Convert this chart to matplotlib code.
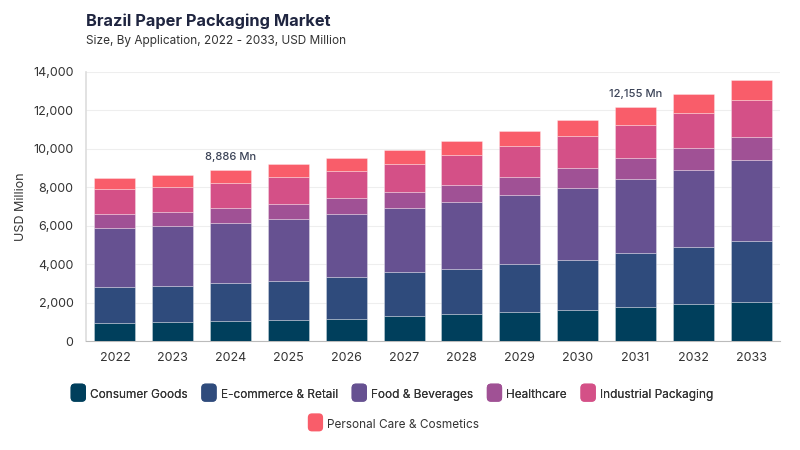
import matplotlib
matplotlib.use("Agg")
import matplotlib.pyplot as plt
from matplotlib.patches import FancyBboxPatch, Patch
from matplotlib.legend_handler import HandlerPatch
import numpy as np

years = ["2022", "2023", "2024", "2025", "2026", "2027", "2028", "2029", "2030", "2031", "2032", "2033"]
consumer_goods = [920, 973, 1025, 1077, 1128, 1301, 1388, 1492, 1613, 1752, 1909, 2045]
ecommerce_retail = [1905, 1905, 1978, 2063, 2186, 2273, 2376, 2498, 2620, 2811, 2966, 3142]
food_beverages = [3040, 3123, 3154, 3209, 3279, 3331, 3453, 3591, 3730, 3852, 4008, 4217]
healthcare = [730, 728, 749, 798, 832, 832, 885, 937, 1023, 1075, 1146, 1197]
industrial_packaging = [1300, 1302, 1333, 1353, 1388, 1475, 1543, 1596, 1666, 1735, 1821, 1942]
personal_care = [575, 609, 647, 677, 711, 729, 764, 815, 850, 930, 989, 1041]

series_names = ["Consumer Goods", "E-commerce & Retail", "Food & Beverages",
                "Healthcare", "Industrial Packaging", "Personal Care & Cosmetics"]
series_values = [consumer_goods, ecommerce_retail, food_beverages,
                 healthcare, industrial_packaging, personal_care]
colors = ["#003f5c", "#2f4b7c", "#665191", "#a05195", "#d45087", "#f95d6a"]

annot_years = ["2024", "2031"]
annot_labels = ["8,886 Mn", "12,155 Mn"]

plt.rcParams["font.family"] = ["Inter", "DejaVu Sans"]

fig = plt.figure(figsize=(8, 4.5), dpi=100)
ax = fig.add_axes([0.1075, 0.2422, 0.8675, 0.5985])

x = np.arange(len(years))
bottom = np.zeros(len(years))
for name, vals, c in zip(series_names, series_values, colors):
    v = np.array(vals, dtype=float)
    ax.bar(x, v, bottom=bottom, width=0.71, color=c, edgecolor=(1, 1, 1, 0.35),
           linewidth=0.6, label=name, zorder=3)
    bottom += v

totals = bottom
for yr, lab in zip(annot_years, annot_labels):
    i = years.index(yr)
    ax.text(x[i], totals[i] + 420, lab, ha="center", va="bottom",
            fontsize=8, color="#3a4256", fontweight="medium")

ax.set_xlim(-0.5, len(years) - 0.5)
ax.set_ylim(0, 14000)
ax.set_yticks(np.arange(0, 14001, 2000))
ax.set_yticklabels([f"{int(t):,}" for t in np.arange(0, 14001, 2000)])
ax.set_xticks(x)
ax.set_xticklabels(years)
ax.tick_params(axis="both", length=0, labelsize=9, colors="#333333")
ax.tick_params(axis="x", pad=8)
ax.tick_params(axis="y", pad=9)
ax.grid(axis="y", color="#eeeeee", linewidth=0.8, zorder=0)
for s in ["top", "right"]:
    ax.spines[s].set_visible(False)
ax.spines["left"].set_color("#dddddd")
ax.spines["left"].set_linewidth(1.2)
ax.spines["bottom"].set_color("#bbbbbb")
ax.set_ylabel("USD Million", fontsize=9, color="#333333", labelpad=4)

fig.text(0.108, 0.952, "Brazil Paper Packaging Market", fontsize=11.8, fontweight="bold",
         color="#1f2540", ha="left", va="center")
fig.text(0.108, 0.908, "Size, By Application, 2022 - 2033, USD Million", fontsize=8.5,
         color="#333333", ha="left", va="center")


class RoundHandler(HandlerPatch):
    def create_artists(self, legend, orig_handle, xdescent, ydescent, width, height, fontsize, trans):
        s = 11
        p = FancyBboxPatch((xdescent + (width - s) / 2, ydescent + (height - s) / 2 - 2),
                           s, s + 2, boxstyle="round,pad=0,rounding_size=3",
                           facecolor=orig_handle.get_facecolor(), edgecolor="none",
                           transform=trans)
        return [p]


handles = [Patch(facecolor=c, label=n) for n, c in zip(series_names, colors)]
leg1 = fig.legend(handles=handles[:5], loc="center", bbox_to_anchor=(0.491, 0.123), ncol=5,
                  frameon=False, fontsize=8.5, handler_map={Patch: RoundHandler()},
                  handlelength=1.0, handleheight=1.0, handletextpad=0.5, columnspacing=1.3)
for t in leg1.get_texts():
    t.set_color("#333333")
leg2 = fig.legend(handles=handles[5:], loc="center", bbox_to_anchor=(0.493, 0.057), ncol=1,
                  frameon=False, fontsize=8.5, handler_map={Patch: RoundHandler()},
                  handlelength=1.0, handleheight=1.0, handletextpad=0.5)
for t in leg2.get_texts():
    t.set_color("#333333")
fig.add_artist(leg1)

fig.savefig("out.png", dpi=100, facecolor="white")
